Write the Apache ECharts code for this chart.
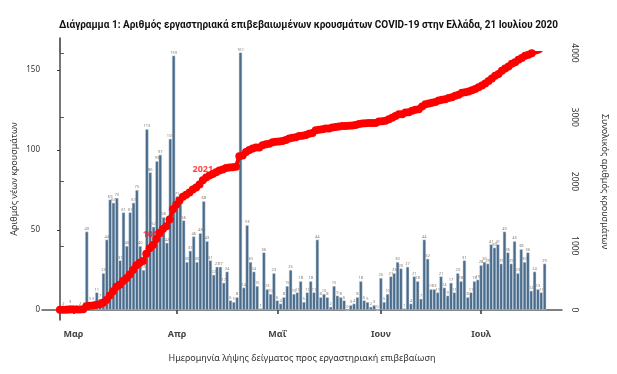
<!DOCTYPE html>
<html><head><meta charset="utf-8">
<script src="https://cdn.jsdelivr.net/npm/echarts@6/dist/echarts.min.js"></script>
<style>html,body{margin:0;padding:0;background:#fff}#c{width:617px;height:374px}</style>
</head><body><div id="c"></div>
<script>
// Daily laboratory-confirmed cases by sampling date, starting 2020-02-26
const startDate = '2020-02-26';
const dailyCases = [
  2,2,0,3,0,0,2,2,49,5,5,11,7,23,44,69,67,70,31,61,40,61,67,75,40,25,113,86,52,93,97,58,42,107,159,
  71,67,56,30,37,46,30,48,68,
  43,31,22,27,27,17,24,6,5,8,
  161,
  14,53,30,24,15,1,36,13,10,23,6,4,8,15,25,10,11,18,5,11,18,11,44,8,10,8,2,15,9,8,6,0,3,4,8,18,6,5,2,3,0,20,
  5,10,21,23,30,26,1,27,4,21,18,7,44,32,13,13,11,21,14,9,17,11,23,18,31,8,11,18,19,28,30,29,41,39,41,29,49,36,29,43,23,38,30,36,12,24,13,11,29
];
const monthTickDays = [4, 35, 65, 96, 126];
const monthLabels = ['Μαρ', 'Απρ', 'Μαΐ', 'Ιουν', 'Ιουλ'];
const leftTicks = [0, 50, 100, 150];
const rightTicks = [0, 1000, 2000, 3000, 4000];
const annotatedDays = [28, 43, 145];

const dates = dailyCases.map((_, i) => {
  const d = new Date(startDate + 'T00:00:00Z'); d.setUTCDate(d.getUTCDate() + i);
  return d.toISOString().slice(0, 10);
});
const cumulative = [];
dailyCases.reduce((s, v, i) => (cumulative[i] = s + v), 0);

const xMin = -5.39, xMax = 150.2;
const plotW = 617 - 42 - 55;
const barW = plotW / (xMax - xMin);
const font = 'Noto Sans';

const chart = echarts.init(document.getElementById('c'), null, {renderer: 'canvas'});
chart.setOption({
  backgroundColor: '#fff',
  animation: false,
  title: {
    text: 'Διάγραμμα 1: Αριθμός εργαστηριακά επιβεβαιωμένων κρουσμάτων COVID-19 στην Ελλάδα, 21 Ιουλίου 2020',
    left: 'center', top: 15,
    textStyle: {fontFamily: 'Roboto', fontSize: 10, fontWeight: 'bold', color: '#111'}
  },
  grid: [
    {left: 42, right: 55, top: 38, bottom: 54},
    {left: 42, right: 55, top: 53, bottom: 64}
  ],
  xAxis: [
    {
      type: 'value', gridIndex: 0, min: xMin, max: xMax,
      name: 'Ημερομηνία λήψης δείγματος προς εργαστηριακή επιβεβαίωση',
      nameLocation: 'middle', nameGap: 34,
      nameTextStyle: {fontFamily: font, fontSize: 9, color: '#333'},
      axisLine: {show: true, lineStyle: {color: '#555', width: 1.5}},
      axisTick: {show: true, length: 4, lineStyle: {color: '#333', width: 1.5}, customValues: monthTickDays},
      axisLabel: {
        customValues: monthTickDays, margin: 10,
        formatter: v => monthLabels[monthTickDays.indexOf(Math.round(v))] || '',
        fontFamily: font, fontSize: 9, fontWeight: 'bold', color: '#444'
      },
      splitLine: {show: false}
    },
    {type: 'value', gridIndex: 1, min: xMin, max: xMax, show: false}
  ],
  yAxis: [
    {
      type: 'value', gridIndex: 0, position: 'left', min: -6.25, max: 170,
      name: 'Αριθμός νέων κρουσμάτων', nameLocation: 'middle', nameGap: 23, nameRotate: 90,
      nameMoveOverlap: false,
      nameTextStyle: {fontFamily: font, fontSize: 9, color: '#333'},
      axisLine: {show: true, lineStyle: {color: '#333', width: 1.5}},
      axisTick: {show: true, length: 3, customValues: leftTicks, lineStyle: {color: '#333'}},
      axisLabel: {customValues: leftTicks, margin: 2, fontFamily: font, fontSize: 8, color: '#333'},
      splitLine: {show: false}
    },
    {
      type: 'value', gridIndex: 1, position: 'right', min: 0, max: 4000, interval: 1000,
      name: 'Συνολικός αριθμός κρουσμάτων', nameLocation: 'middle', nameGap: 41, nameRotate: -90,
      nameTextStyle: {fontFamily: font, fontSize: 9, color: '#333'},
      axisLine: {show: true, lineStyle: {color: '#777', width: 2}},
      axisTick: {show: true, length: 4, lineStyle: {color: '#555'}},
      axisLabel: {rotate: -90, margin: 11, formatter: v => String(v), fontFamily: font, fontSize: 8.5, color: '#333'},
      splitLine: {show: false}
    }
  ],
  series: [
    {
      type: 'bar', xAxisIndex: 0, yAxisIndex: 0, barWidth: barW,
      data: dailyCases.map((v, i) => [i, v]),
      itemStyle: {color: '#4b6b8a', borderColor: '#cddbe8', borderWidth: 0.5},
      label: {show: true, position: 'top', distance: 1, fontSize: 4, color: '#8a7a70', fontFamily: font},
      z: 2
    },
    {
      type: 'scatter', xAxisIndex: 1, yAxisIndex: 1, symbolSize: 0, z: 3,
      data: annotatedDays.map(d => [d, cumulative[d]]),
      label: {show: true, position: 'top', distance: 6, formatter: p => String(p.value[1]),
        color: '#ff1010', fontFamily: font, fontSize: 9, fontWeight: 'bold'}
    },
    {
      type: 'line', xAxisIndex: 1, yAxisIndex: 1, z: 4,
      data: cumulative.map((v, i) => [i, v]),
      symbol: 'circle', symbolSize: 8, showSymbol: true, showAllSymbol: true,
      itemStyle: {color: '#ff0000'}, lineStyle: {color: '#ff0000', width: 4}
    }
  ]
});
</script></body></html>
